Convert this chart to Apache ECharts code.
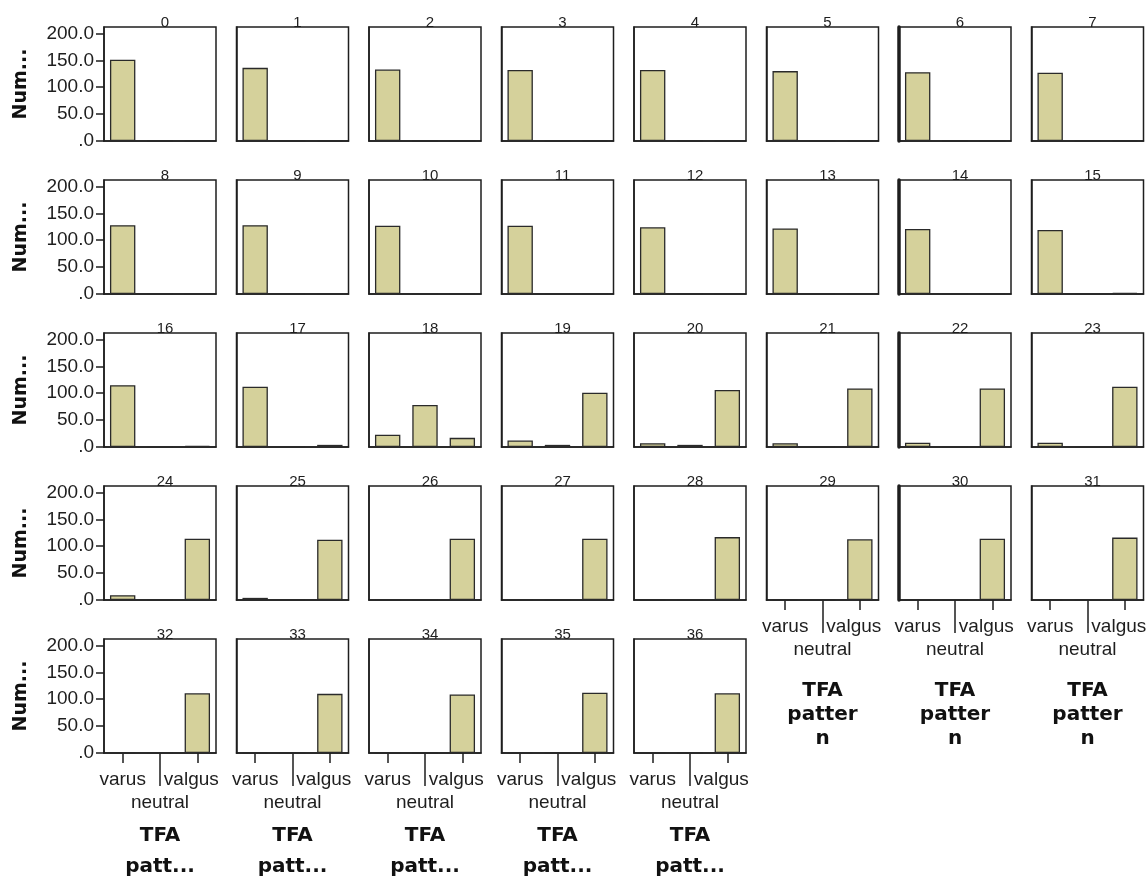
<!DOCTYPE html>
<html>
<head>
<meta charset="utf-8">
<script src="https://cdn.jsdelivr.net/npm/echarts@6/dist/echarts.min.js"></script>
<style>
  html, body { margin: 0; padding: 0; background: #fff; }
  #chart { width: 1148px; height: 879px; }
</style>
</head>
<body>
<div id="chart"></div>
<script>
// panel ids 0..36, categories per panel
const panels = Array.from({ length: 37 }, (_, i) => String(i));
const categories = ['varus', 'neutral', 'valgus'];
const yTicks = [0, 50, 100, 150, 200];

// counts
const varus   = [151, 136, 133, 132, 132, 130, 128, 127,
                 128, 128, 127, 127, 124, 122, 121, 119,
                 115, 112, 23, 12, 7, 7, 8, 8,
                 9, 4, 1, 1, 0, 0, 0, 0,
                 0, 0, 0, 0, 0];
const neutral = [0, 0, 0, 0, 0, 0, 0, 0,
                 1, 1, 1, 1, 1, 1, 1, 1,
                 1, 1, 78, 4, 4, 1, 1, 1,
                 1, 1, 1, 0, 1, 0, 1, 0,
                 1, 0, 0, 0, 0];
const valgus  = [0, 0, 0, 0, 0, 0, 0, 0,
                 1, 1, 1, 1, 1, 1, 1, 2,
                 2, 4, 17, 101, 106, 109, 109, 112,
                 114, 112, 114, 114, 117, 113, 114, 116,
                 111, 110, 109, 112, 111];

const COLS = 8;
const left0 = 104, pitchX = 132.5, boxW = 112;
const top0 = 27, pitchY = 153, boxH = 114;
const ink = '#1e1e1e';
const font = 'Liberation Sans, Arial, sans-serif';
const boldFont = 'DejaVu Sans, sans-serif';

const grids = [], xAxes = [], yAxes = [], series = [], titles = [];
const extraX = [];   // long middle ticks under the bottom panels

panels.forEach((p, i) => {
    const col = i % COLS;
    const row = Math.floor(i / COLS);
    const left = left0 + col * pitchX;
    const top = top0 + row * pitchY;
    // last panel in each column gets the category labels
    const isBottom = (i + COLS) >= panels.length;
    const shortCol = col >= 5;

    grids.push({
        left: left, top: top, width: boxW, height: boxH,
        outerBoundsMode: 'none', containLabel: false,
        show: true, borderColor: ink, borderWidth: 1.5, backgroundColor: '#fff'
    });

    titles.push({
        text: p,
        left: left + boxW / 2, top: top - 17,
        textAlign: 'center',
        textStyle: { fontFamily: font, fontSize: 15, fontWeight: 'normal', color: ink }
    });

    xAxes.push({
        type: 'category', gridIndex: i, data: categories,
        axisLine: { show: true, lineStyle: { color: ink, width: 1.5 } },
        axisTick: {
            show: isBottom, alignWithLabel: true, length: 10,
            interval: idx => idx !== 1,
            lineStyle: { color: ink, width: 1.5 }
        },
        axisLabel: {
            show: isBottom, interval: 0, margin: 15,
            fontFamily: font, fontSize: 19, color: ink, lineHeight: 23,
            formatter: (v, idx) => idx === 1 ? '\n' + v : (idx === 2 ? '{r|' + v + '}' : v),
            rich: {
                r: { fontFamily: font, fontSize: 19, color: ink, lineHeight: 23, padding: [0, 12, 0, 0] }
            }
        },
        name: isBottom ? (shortCol ? 'TFA\npatter\nn' : 'TFA\npatt...') : '',
        nameLocation: 'middle',
        nameGap: shortCol ? 79 : 67,
        nameTextStyle: {
            fontFamily: boldFont, fontWeight: 'bold',
            fontSize: 20, color: '#111', lineHeight: shortCol ? 24 : 31
        }
    });

    if (isBottom) {
        extraX.push({
            type: 'category', gridIndex: i, data: categories, position: 'bottom',
            axisLine: { show: false },
            axisTick: {
                show: true, alignWithLabel: true, length: 33,
                interval: idx => idx === 1,
                lineStyle: { color: ink, width: 1.5 }
            },
            axisLabel: { show: false }
        });
    }

    yAxes.push({
        type: 'value', gridIndex: i, min: 0, max: 212,
        splitLine: { show: false },
        axisLine: { show: true, lineStyle: { color: ink, width: (col === 6 && row < 4) ? 3.5 : 1.5 } },
        axisTick: { show: col === 0, length: 8, customValues: yTicks, lineStyle: { color: ink, width: 1.5 } },
        axisLabel: {
            show: col === 0, margin: 10, customValues: yTicks,
            fontFamily: font, fontSize: 19, color: ink,
            formatter: v => v === 0 ? '.0' : v.toFixed(1)
        },
        name: col === 0 ? 'Num...' : '',
        nameLocation: 'middle', nameRotate: 90, nameGap: 73,
        nameTextStyle: { fontFamily: boldFont, fontWeight: 'bold', fontSize: 19, color: '#111' }
    });

    series.push({
        type: 'bar', xAxisIndex: i, yAxisIndex: i,
        barWidth: '68%',
        data: [varus[i], neutral[i], valgus[i]],
        itemStyle: { color: '#d5d19b', borderColor: '#2a2a2a', borderWidth: 1.3 },
        silent: true, animation: false
    });
});

const chart = echarts.init(document.getElementById('chart'));
chart.setOption({
    backgroundColor: '#fff',
    animation: false,
    title: titles,
    grid: grids,
    xAxis: xAxes.concat(extraX),
    yAxis: yAxes,
    series: series
});
</script>
</body>
</html>
